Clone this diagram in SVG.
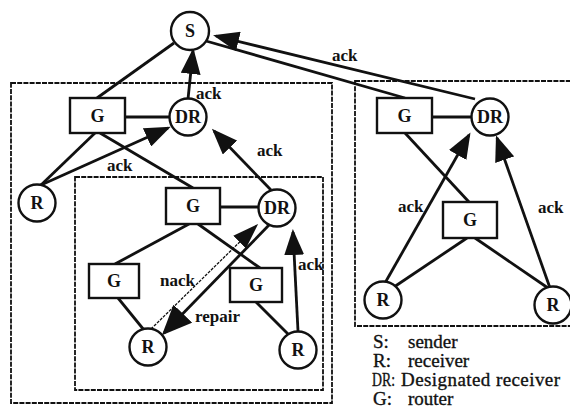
<svg xmlns="http://www.w3.org/2000/svg" width="570" height="412" viewBox="0 0 570 412">
<style>
.box{fill:none;stroke:#111;stroke-width:1.8;stroke-dasharray:5,1.2}
.n{fill:#fff;stroke:#111;stroke-width:2.4}
.nt{font-family:'Liberation Serif','Times New Roman','DejaVu Serif',serif;font-weight:bold;font-size:18px;fill:#111;text-anchor:middle;dominant-baseline:central}
.l{stroke:#111;stroke-width:2.8;fill:none}
.lab{font-family:'Liberation Serif','Times New Roman','DejaVu Serif',serif;font-weight:bold;font-size:17px;fill:#111}
.leg{font-family:'Liberation Serif','Times New Roman','DejaVu Serif',serif;font-size:19px;fill:#111;stroke:#111;stroke-width:0.35}
</style>
<defs>
<marker id="ah" markerUnits="userSpaceOnUse" viewBox="0 0 26 20" markerWidth="26" markerHeight="20" refX="23" refY="10" orient="auto">
<path d="M0,0 L26,10 L0,20 z" fill="#111"/>
</marker>
<marker id="ahb" markerUnits="userSpaceOnUse" viewBox="0 0 30 26" markerWidth="30" markerHeight="26" refX="27" refY="13" orient="auto">
<path d="M0,0 L30,13 L0,26 z" fill="#111"/>
</marker>
<marker id="ahs" markerUnits="userSpaceOnUse" viewBox="0 0 26 20" markerWidth="26" markerHeight="20" refX="23" refY="10" orient="auto">
<path d="M0,1 L26,10 L0,19 z" fill="#111"/>
</marker>
</defs>
<rect width="570" height="412" fill="#fff"/>
<g id="boxes">
<rect class="box" x="11" y="83" width="321" height="320"/>
<rect class="box" x="75" y="177" width="248" height="213"/>
<rect class="box" x="355" y="81" width="222" height="245"/>
</g>
<g id="connectors">
<line class="l" x1="174" y1="43" x2="97" y2="98"/>
<line class="l" x1="206" y1="41" x2="405" y2="98"/>
<line class="l" x1="125" y1="117" x2="170" y2="117"/>
<line class="l" x1="95" y1="133" x2="41" y2="185"/>
<line class="l" x1="100" y1="133" x2="193" y2="188"/>
<line class="l" x1="220" y1="207" x2="259" y2="207"/>
<line class="l" x1="189" y1="224" x2="115" y2="264"/>
<line class="l" x1="198" y1="224" x2="260" y2="268"/>
<line class="l" x1="118" y1="298" x2="144" y2="330"/>
<line class="l" x1="256" y1="302" x2="288" y2="334"/>
<line class="l" x1="432" y1="117" x2="472" y2="117"/>
<line class="l" x1="405" y1="133" x2="469" y2="202"/>
<line class="l" x1="467" y1="238" x2="394" y2="287"/>
<line class="l" x1="475" y1="238" x2="548" y2="288"/>
<line class="l" marker-end="url(#ah)" x1="475" y1="99" x2="216" y2="36"/>
<line class="l" marker-end="url(#ah)" x1="188" y1="99" x2="193" y2="51"/>
<line class="l" marker-end="url(#ah)" x1="41" y1="185" x2="168" y2="128"/>
<line class="l" marker-end="url(#ah)" x1="271" y1="190" x2="214" y2="131"/>
<line stroke="#111" stroke-width="1.3" stroke-dasharray="3,1.2" marker-end="url(#ahs)" x1="151" y1="329" x2="256" y2="226"/>
<line class="l" stroke-width="4.2" marker-end="url(#ahb)" x1="270" y1="224" x2="164" y2="333"/>
<line class="l" marker-end="url(#ah)" x1="298" y1="331" x2="293" y2="232"/>
<line class="l" marker-end="url(#ah)" x1="385" y1="283" x2="469" y2="135"/>
<line class="l" marker-end="url(#ah)" x1="550" y1="288" x2="497" y2="138"/>
</g>
<g id="labels">
<text class="lab" x="332" y="61">ack</text>
<text class="lab" x="196" y="99">ack</text>
<text class="lab" x="107" y="171">ack</text>
<text class="lab" x="257" y="156">ack</text>
<text class="lab" x="160" y="286">nack</text>
<text class="lab" x="195" y="322">repair</text>
<text class="lab" x="298" y="270">ack</text>
<text class="lab" x="398" y="212">ack</text>
<text class="lab" x="538" y="213">ack</text>
</g>
<g id="S"><circle class="n" cx="190" cy="31" r="19"/><text class="nt" x="190" y="31">S</text></g>
<g id="DR1"><circle class="n" cx="188" cy="117" r="18.5"/><text class="nt" x="188" y="117">DR</text></g>
<g id="G1"><rect class="n" x="70" y="98" width="55" height="35"/><text class="nt" x="97.5" y="115.5">G</text></g>
<g id="R1"><circle class="n" cx="37" cy="203" r="18.5"/><text class="nt" x="37" y="203">R</text></g>
<g id="G2"><rect class="n" x="166" y="188" width="54" height="36"/><text class="nt" x="193" y="206">G</text></g>
<g id="DR2"><circle class="n" cx="277" cy="208" r="18.5"/><text class="nt" x="277" y="208">DR</text></g>
<g id="G3"><rect class="n" x="89" y="264" width="50" height="34"/><text class="nt" x="114" y="281">G</text></g>
<g id="G4"><rect class="n" x="230" y="268" width="52" height="34"/><text class="nt" x="256" y="285">G</text></g>
<g id="R2"><circle class="n" cx="148" cy="347" r="18.5"/><text class="nt" x="148" y="347">R</text></g>
<g id="R3"><circle class="n" cx="298" cy="350" r="18.5"/><text class="nt" x="298" y="350">R</text></g>
<g id="G5"><rect class="n" x="377" y="98" width="55" height="35"/><text class="nt" x="404.5" y="115.5">G</text></g>
<g id="DR3"><circle class="n" cx="490" cy="117" r="18.5"/><text class="nt" x="490" y="117">DR</text></g>
<g id="G6"><rect class="n" x="443" y="202" width="54" height="36"/><text class="nt" x="470" y="220">G</text></g>
<g id="R4"><circle class="n" cx="383" cy="300" r="18.5"/><text class="nt" x="383" y="300">R</text></g>
<g id="R5"><circle class="n" cx="553" cy="305" r="18.5"/><text class="nt" x="553" y="305">R</text></g>
<g id="legend">
<text class="leg" x="373" y="348">S:</text><text class="leg" x="408" y="348">sender</text>
<text class="leg" x="373" y="367">R:</text><text class="leg" x="408" y="367">receiver</text>
<text class="leg" x="372" y="386" textLength="23" lengthAdjust="spacingAndGlyphs">DR:</text><text class="leg" x="401" y="386" textLength="159">Designated receiver</text>
<text class="leg" x="373" y="405">G:</text><text class="leg" x="408" y="405">router</text>
</g>
</svg>
